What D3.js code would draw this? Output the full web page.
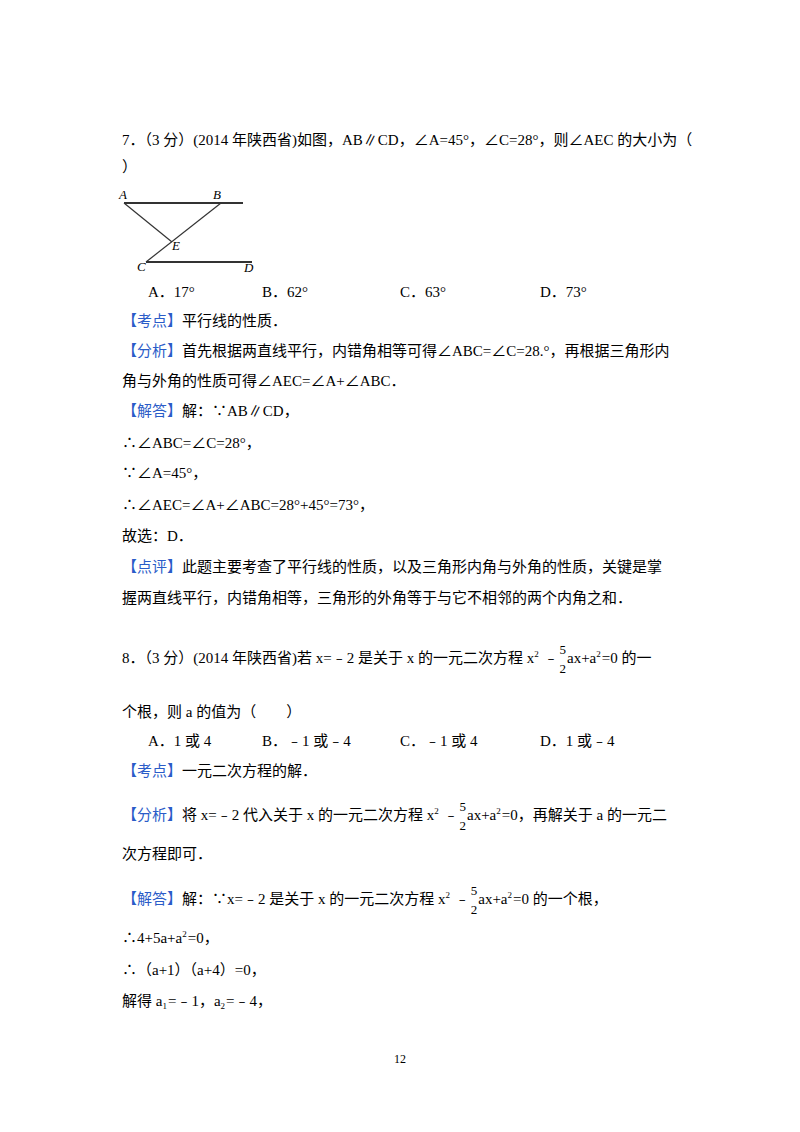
<!DOCTYPE html>
<html><head><meta charset="utf-8">
<script src="https://cdn.jsdelivr.net/npm/d3@7"></script>
<style>body{margin:0;background:#fff} text{white-space:pre}</style>
</head><body>
<svg id="page"></svg>
<script>
var svg = d3.select('#page').attr('width', 800).attr('height', 1132)

// text rows: segments, 'b' = blue bracket label, 'p' = superscript, 'd' = subscript, 'f' = fraction
var rows = [
  [['7．（3 分）(2014 年陕西省)如图，AB∥CD，∠A=45°，∠C=28°，则∠AEC 的大小为（']],
  [['）']],
  [['b','【考点】'],['平行线的性质．']],
  [['b','【分析】'],['首先根据两直线平行，内错角相等可得∠ABC=∠C=28.°，再根据三角形内']],
  [['角与外角的性质可得∠AEC=∠A+∠ABC．']],
  [['b','【解答】'],['解：∵AB∥CD，']],
  [['∴∠ABC=∠C=28°，']],
  [['∵∠A=45°，']],
  [['∴∠AEC=∠A+∠ABC=28°+45°=73°，']],
  [['故选：D．']],
  [['b','【点评】'],['此题主要考查了平行线的性质，以及三角形内角与外角的性质，关键是掌']],
  [['握两直线平行，内错角相等，三角形的外角等于与它不相邻的两个内角之和．']],
  [['8．（3 分）(2014 年陕西省)若 x=﹣2 是关于 x 的一元二次方程 x'],['p','2'],[' ﹣'],['f','5','2'],['ax+a'],['p','2'],['=0 的一']],
  [['个根，则 a 的值为（　　）']],
  [['b','【考点】'],['一元二次方程的解．']],
  [['b','【分析】'],['将 x=﹣2 代入关于 x 的一元二次方程 x'],['p','2'],[' ﹣'],['f','5','2'],['ax+a'],['p','2'],['=0，再解关于 a 的一元二']],
  [['次方程即可．']],
  [['b','【解答】'],['解：∵x=﹣2 是关于 x 的一元二次方程 x'],['p','2'],[' ﹣'],['f','5','2'],['ax+a'],['p','2'],['=0 的一个根，']],
  [['∴4+5a+a'],['p','2'],['=0，']],
  [['∴（a+1）（a+4）=0，']],
  [['解得 a'],['d','1'],['=﹣1，a'],['d','2'],['=﹣4，']]
]
var rowY = [145,172,326,356,386,416,448,478,510,541,572,603,663,717,776,820,859,904,943,975,1006]

var options7 = ['A．17°', 'B．62°', 'C．63°', 'D．73°']
var options8 = ['A．1 或 4', 'B．﹣1 或﹣4', 'C．﹣1 或 4', 'D．1 或﹣4']
var optX7 = [148, 262, 400, 540], optX8 = [148, 262, 400, 540]

var font = '"Liberation Serif","Noto Sans CJK SC",serif'
var g = svg.append('g').attr('font-family', font).attr('font-size', 15).attr('fill', '#000')

rows.forEach(function(row, i) {
  var x = 122, y = rowY[i]
  row.forEach(function(s) {
    var t
    if (s.length === 1 || s[0] === 'b') {
      t = g.append('text').attr('x', x).attr('y', y).text(s.length === 1 ? s[0] : s[1])
      if (s[0] === 'b') t.attr('fill', '#2a5cc8')
      x += t.node().getComputedTextLength()
    } else if (s[0] === 'p' || s[0] === 'd') {
      t = g.append('text').attr('x', x).attr('y', s[0] === 'p' ? y - 6 : y + 3)
        .attr('font-size', 9).text(s[1])
      x += t.node().getComputedTextLength() + 1
    } else if (s[0] === 'f') {
      var n = g.append('text').attr('x', x + 1).attr('y', y - 9).attr('font-size', 13).text(s[1])
      g.append('text').attr('x', x + 1).attr('y', y + 10).attr('font-size', 13).text(s[2])
      x += n.node().getComputedTextLength() + 2
    }
  })
})

g.append('g').selectAll('text').data(options7).join('text')
  .attr('x', (d, i) => optX7[i]).attr('y', 297).text(d => d)
g.append('g').selectAll('text').data(options8).join('text')
  .attr('x', (d, i) => optX8[i]).attr('y', 746).text(d => d)

g.append('text').attr('x', 400).attr('y', 1063).attr('text-anchor', 'middle')
  .attr('font-size', 12).text('12')

// figure
var pts = {A:[124,203], B:[221,203], C:[146,262], D:[252,262], E:[172,242]}
var lines = [
  [pts.A, [243,203], 2],
  [pts.C, pts.D, 2],
  [pts.A, pts.E, 1.2],
  [pts.C, pts.B, 1.2]
]
svg.append('g').selectAll('line').data(lines).join('line')
  .attr('x1', d => d[0][0]).attr('y1', d => d[0][1])
  .attr('x2', d => d[1][0]).attr('y2', d => d[1][1])
  .attr('stroke', '#333').attr('stroke-width', d => d[2])
var labels = [['A',119,199],['B',213,199],['C',137,271],['D',244,272],['E',172,250]]
svg.append('g').attr('font-family', '"Liberation Serif",serif').attr('font-style', 'italic')
  .attr('font-size', 13).selectAll('text').data(labels).join('text')
  .attr('x', d => d[1]).attr('y', d => d[2]).text(d => d[0])
</script>
</body></html>
